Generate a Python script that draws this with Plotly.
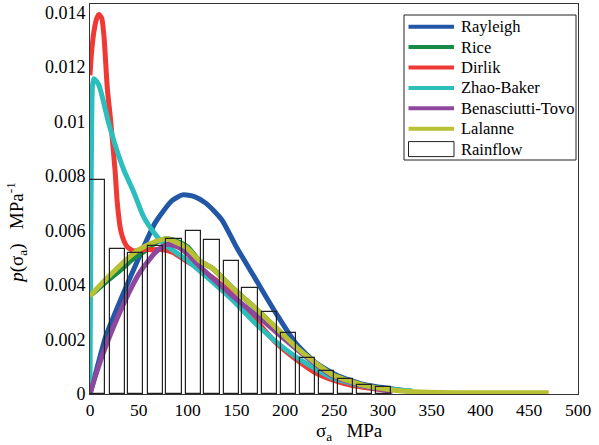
import plotly.graph_objects as go

# ---------------- data ----------------
bin_centers = [8, 28, 47, 67, 86, 106, 125, 145, 164, 184, 203, 223, 242, 262, 281, 301]
bin_width = 15.6
rainflow = [0.00786, 0.00532, 0.00517, 0.00543, 0.00569, 0.00599, 0.00567, 0.00487,
            0.00391, 0.00301, 0.00224, 0.00132, 0.00084, 0.00055, 0.00033, 0.00027]

rayleigh_x = [0, 5, 16, 33, 50, 67, 84, 95, 107, 119, 135, 150, 170, 190, 211, 232, 256, 283, 317, 330]
rayleigh_y = [0, 0.00065, 0.0021, 0.0036, 0.0050, 0.0063, 0.0071, 0.00731, 0.00725, 0.0070,
              0.0064, 0.0054, 0.0042, 0.0030, 0.00186, 0.00113, 0.00064, 0.00033, 0.00015, 0.0001]

rice_x = [0, 16, 33, 42, 50, 58, 67, 78, 90, 100, 112, 126, 146, 165, 180, 215, 249, 283, 310]
rice_y = [0.0036, 0.0041, 0.0046, 0.0049, 0.0051, 0.0053, 0.00555, 0.0057, 0.0056, 0.0054,
          0.0049, 0.0046, 0.0039, 0.0033, 0.0028, 0.0016, 0.0007, 0.0003, 0.00015]

dirlik_x = [0, 1.5, 4, 7, 9.2, 12, 14.4, 17.8, 21, 25.7, 28, 31.5, 35, 38.3, 45, 55, 65, 75,
            85, 98, 112, 132, 150, 170, 190, 210, 230, 250, 270, 290, 310]
dirlik_y = [0.0117, 0.0125, 0.0133, 0.0138, 0.01393, 0.0138, 0.0131, 0.0112, 0.0101, 0.0082,
            0.0070, 0.0060, 0.0056, 0.0054, 0.00525, 0.0053, 0.0053, 0.0053, 0.0052, 0.0049,
            0.0046, 0.0041, 0.0035, 0.0027, 0.0019, 0.0013, 0.0008, 0.0005, 0.0003, 0.0002, 0.0001]

zhao_x = [0, 0.5, 1.5, 2.5, 4, 9, 19.5, 29.8, 35, 45, 55, 66, 76, 96, 113, 146, 173, 201,
          221, 248, 283, 317, 330]
zhao_y = [0, 0.004, 0.009, 0.0113, 0.01158, 0.01135, 0.0099, 0.0087, 0.0082, 0.0074, 0.0065,
          0.0059, 0.0055, 0.0050, 0.0045, 0.00345, 0.00247, 0.00162, 0.00113, 0.00060,
          0.00027, 0.00015, 0.0001]

bt_x = [0, 5, 16, 33, 50, 67, 79, 90, 98, 112, 146, 180, 215, 248, 283, 310]
bt_y = [0, 0.0006, 0.00174, 0.0032, 0.0044, 0.0052, 0.0055, 0.0054, 0.0052, 0.0047, 0.0036,
        0.0026, 0.00155, 0.00068, 0.00027, 0.0001]

lalanne_x = [0, 16, 33, 50, 67, 78, 98, 112, 126, 146, 165, 180, 215, 249, 283, 310, 340, 380, 420, 470]
lalanne_y = [0.0036, 0.0042, 0.0048, 0.0053, 0.0056, 0.0057, 0.0054, 0.0049, 0.0046, 0.0039,
             0.0033, 0.0028, 0.0016, 0.0007, 0.0003, 0.00015, 0.00007, 0.00005, 0.00005, 0.00005]

x_ticks = [0, 50, 100, 150, 200, 250, 300, 350, 400, 450, 500]
y_ticks = [0, 0.002, 0.004, 0.006, 0.008, 0.01, 0.012, 0.014]
y_ticktext = ["0", "0.002", "0.004", "0.006", "0.008", "0.01", "0.012", "0.014"]

series_names = ["Rayleigh", "Rice", "Dirlik", "Zhao-Baker", "Benasciutti-Tovo", "Lalanne"]
series_colors = ["#2257a8", "#178a47", "#ee3935", "#2cbdbd", "#8d479d", "#b8c133"]
bar_name = "Rainflow"

# ---------------- figure ----------------
FONT = "Liberation Serif, DejaVu Serif, Times New Roman, serif"
W, H = 599, 445
ML, MR, MT, MB = 90, 21, 4, 51
PW, PH = W - ML - MR, H - MT - MB


def px_to_paper(px, py):
    return (px - ML) / PW, (H - MB - py) / PH


fig = go.Figure()
series_x = [rayleigh_x, rice_x, dirlik_x, zhao_x, bt_x, lalanne_x]
series_y = [rayleigh_y, rice_y, dirlik_y, zhao_y, bt_y, lalanne_y]
for name, xs, ys, col in zip(series_names, series_x, series_y, series_colors):
    fig.add_trace(go.Scatter(x=xs, y=ys, mode="lines", name=name, showlegend=False,
                             line=dict(color=col, width=5, shape="spline", smoothing=0.6)))

fig.add_trace(go.Bar(x=bin_centers, y=rainflow, width=[bin_width] * len(bin_centers),
                     name=bar_name, xaxis="x2", yaxis="y2", showlegend=False,
                     marker=dict(color="rgba(255,255,255,0)",
                                 line=dict(color="#222222", width=1.2))))

x_range = [0, 500]
y_range = [0, 0.01432]

fig.update_layout(
    template="none",
    width=W, height=H,
    margin=dict(l=ML, r=MR, t=MT, b=MB, autoexpand=False),
    paper_bgcolor="white", plot_bgcolor="white",
    font=dict(family=FONT, size=16, color="black"),
    showlegend=False,
    xaxis=dict(range=x_range, tickvals=x_ticks, showgrid=False, zeroline=False,
               showline=True, linecolor="#333", linewidth=1, mirror=True, ticks="",
               automargin=False, tickfont=dict(family=FONT, size=17.5)),
    yaxis=dict(range=y_range, tickvals=y_ticks, ticktext=y_ticktext, showgrid=False,
               zeroline=False, showline=True, linecolor="#333", linewidth=1, mirror=True,
               ticks="", automargin=False, tickfont=dict(family=FONT, size=18)),
    xaxis2=dict(range=x_range, overlaying="x", visible=False, automargin=False),
    yaxis2=dict(range=y_range, overlaying="y", visible=False, automargin=False),
    bargap=0,
)

# ---- legend box drawn with shapes/annotations (paper coords) ----
bx0, by0 = px_to_paper(404, 160)
bx1, by1 = px_to_paper(576, 15)
fig.add_shape(type="rect", xref="paper", yref="paper", x0=bx0, y0=by0, x1=bx1, y1=by1,
              line=dict(color="#222", width=1), fillcolor="white", layer="above")
entry_y0, entry_dy = 26.7, 20.4
lx0, lx1, tx = 408.5, 454, 459
labels = series_names + [bar_name]
for i, lab in enumerate(labels):
    cy = entry_y0 + entry_dy * i
    if i < len(series_names):
        x0, y = px_to_paper(lx0, cy)
        x1, _ = px_to_paper(lx1, cy)
        fig.add_shape(type="line", xref="paper", yref="paper", x0=x0, x1=x1, y0=y, y1=y,
                      line=dict(color=series_colors[i], width=4), layer="above")
    else:
        x0, y0 = px_to_paper(lx0, cy + 7.5)
        x1, y1 = px_to_paper(lx1, cy - 7.5)
        fig.add_shape(type="rect", xref="paper", yref="paper", x0=x0, x1=x1, y0=y0, y1=y1,
                      line=dict(color="#222", width=1), fillcolor="white", layer="above")
    ax, ay = px_to_paper(tx, cy)
    fig.add_annotation(text=lab, xref="paper", yref="paper", x=ax, y=ay, showarrow=False,
                       xanchor="left", yanchor="middle",
                       font=dict(family=FONT, size=16.5, color="black"))

# ---- axis titles ----
fig.add_annotation(text="σ<sub>a</sub>   MPa", xref="paper", yref="paper", x=0.531, y=-0.097,
                   showarrow=False, font=dict(family=FONT, size=19), xanchor="center", yanchor="middle")
fig.add_annotation(text="<i>p</i>(σ<sub>a</sub>)   MPa<sup>-1</sup>", xref="paper", yref="paper",
                   x=-0.15, y=0.413, textangle=-90, showarrow=False,
                   font=dict(family=FONT, size=19), xanchor="center", yanchor="middle")

fig.write_html("out.html", config={"displayModeBar": False},
               post_script="document.body.style.margin='0';document.body.style.padding='0';")
